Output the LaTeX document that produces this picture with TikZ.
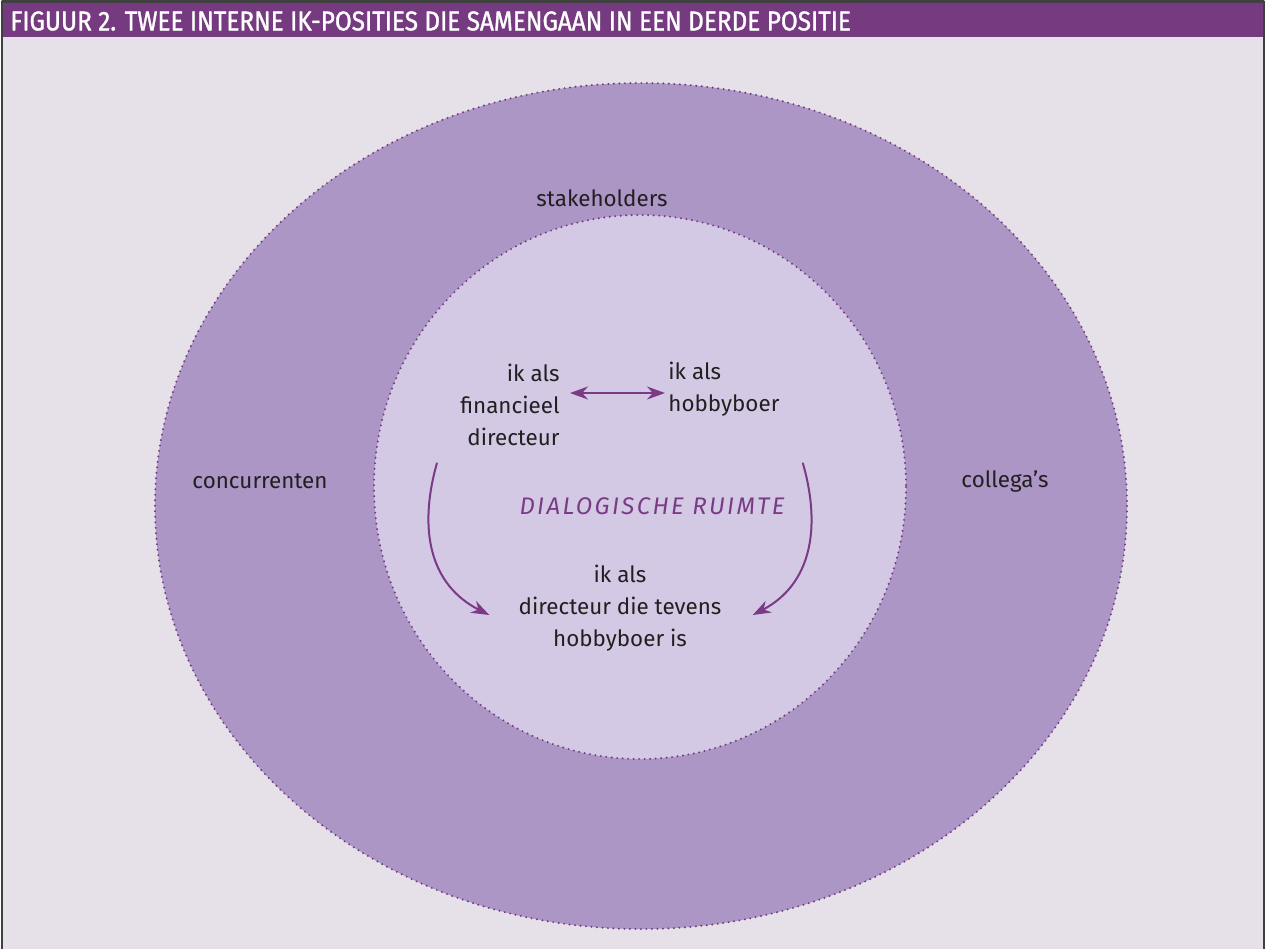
\documentclass[tikz,border=0pt]{standalone}
\usepackage{fontspec}
\setmainfont{Fira Sans}
\newfontfamily\titlefont[FakeStretch=0.895,FakeBold=1.2]{Fira Sans}
\newfontfamily\spacedfont[LetterSpace=10]{Fira Sans}
\usetikzlibrary{arrows.meta,calc}
\definecolor{kop}{HTML}{763A80}
\definecolor{achter}{HTML}{E6E0E9}
\definecolor{buiten}{HTML}{AB96C6}
\definecolor{binnen}{HTML}{D4C9E4}
\definecolor{pijl}{HTML}{7A3A86}
\definecolor{tekst}{HTML}{231F20}
\definecolor{rand}{HTML}{404040}
\begin{document}
\begin{tikzpicture}[x=0.5pt,y=-0.5pt,line cap=round,line join=round,
  ring/.style={draw=kop,line width=1.1pt,dash pattern=on 0pt off 2.75pt},
  label/.style={text=tekst,font=\fontsize{11.2}{16}\selectfont,inner sep=0pt},
  twoway/.style={draw=pijl,line width=1pt,{Stealth[length=9pt,width=6.5pt]}-{Stealth[length=9pt,width=6.5pt]}},
  oneway/.style={draw=pijl,line width=1pt,-{Stealth[length=9pt,width=6.5pt]}}]
\useasboundingbox (0,0) rectangle (1272,949);
\fill[achter] (2,0) rectangle (1264,949);
\fill[kop] (2,3) rectangle (1264,37);
\draw[rand,line width=1.2pt,line cap=butt] (2,949)--(2,1.5)--(1264,1.5)--(1264,949);
\node[anchor=west,text=white,inner sep=0pt,font=\titlefont\fontsize{13.6}{14}\selectfont] (kop) at (10,21) {FIGUUR 2. TWEE INTERNE IK-POSITIES DIE SAMENGAAN IN EEN DERDE POSITIE};
\fill[buiten] (641,506) ellipse [x radius=486, y radius=423];
\draw[ring] (641,506) ellipse [x radius=486, y radius=423];
\fill[binnen] (640,487) ellipse [x radius=266, y radius=272];
\draw[ring] (640,487) ellipse [x radius=266, y radius=272];
\node[label] (stake) at (602,198) {stakeholders};
\node[label] (conc) at (260,481) {concurrenten};
\node[label] (coll) at (1005,481) {collega's};
\node[label,align=right,anchor=east] (fin) at (560,405) {ik als\\financieel\\directeur};
\node[label,align=left,anchor=west] (hob) at (668,389) {ik als\\hobbyboer};
\node[label,align=center] (both) at (620,608) {ik als\\directeur die tevens\\hobbyboer is};
\node[inner sep=0pt,text=pijl,font=\spacedfont\itshape\fontsize{12}{13}\selectfont] (ruimte) at (652,506) {DIALOGISCHE RUIMTE};
\draw[twoway] ($(fin.east |- 0,393)+(10,0)$) -- ($(hob.west |- 0,393)+(-3,0)$);
\draw[oneway] ($(fin.south west)+(-23,17)$) .. controls (418,530) and (430,585) .. ($(both.west)+(-29,7)$);
\draw[oneway] ($(fin.south west)+(343,17)$) .. controls (822,530) and (810,585) .. ($(both.east)+(31,7)$);
\end{tikzpicture}
\end{document}
